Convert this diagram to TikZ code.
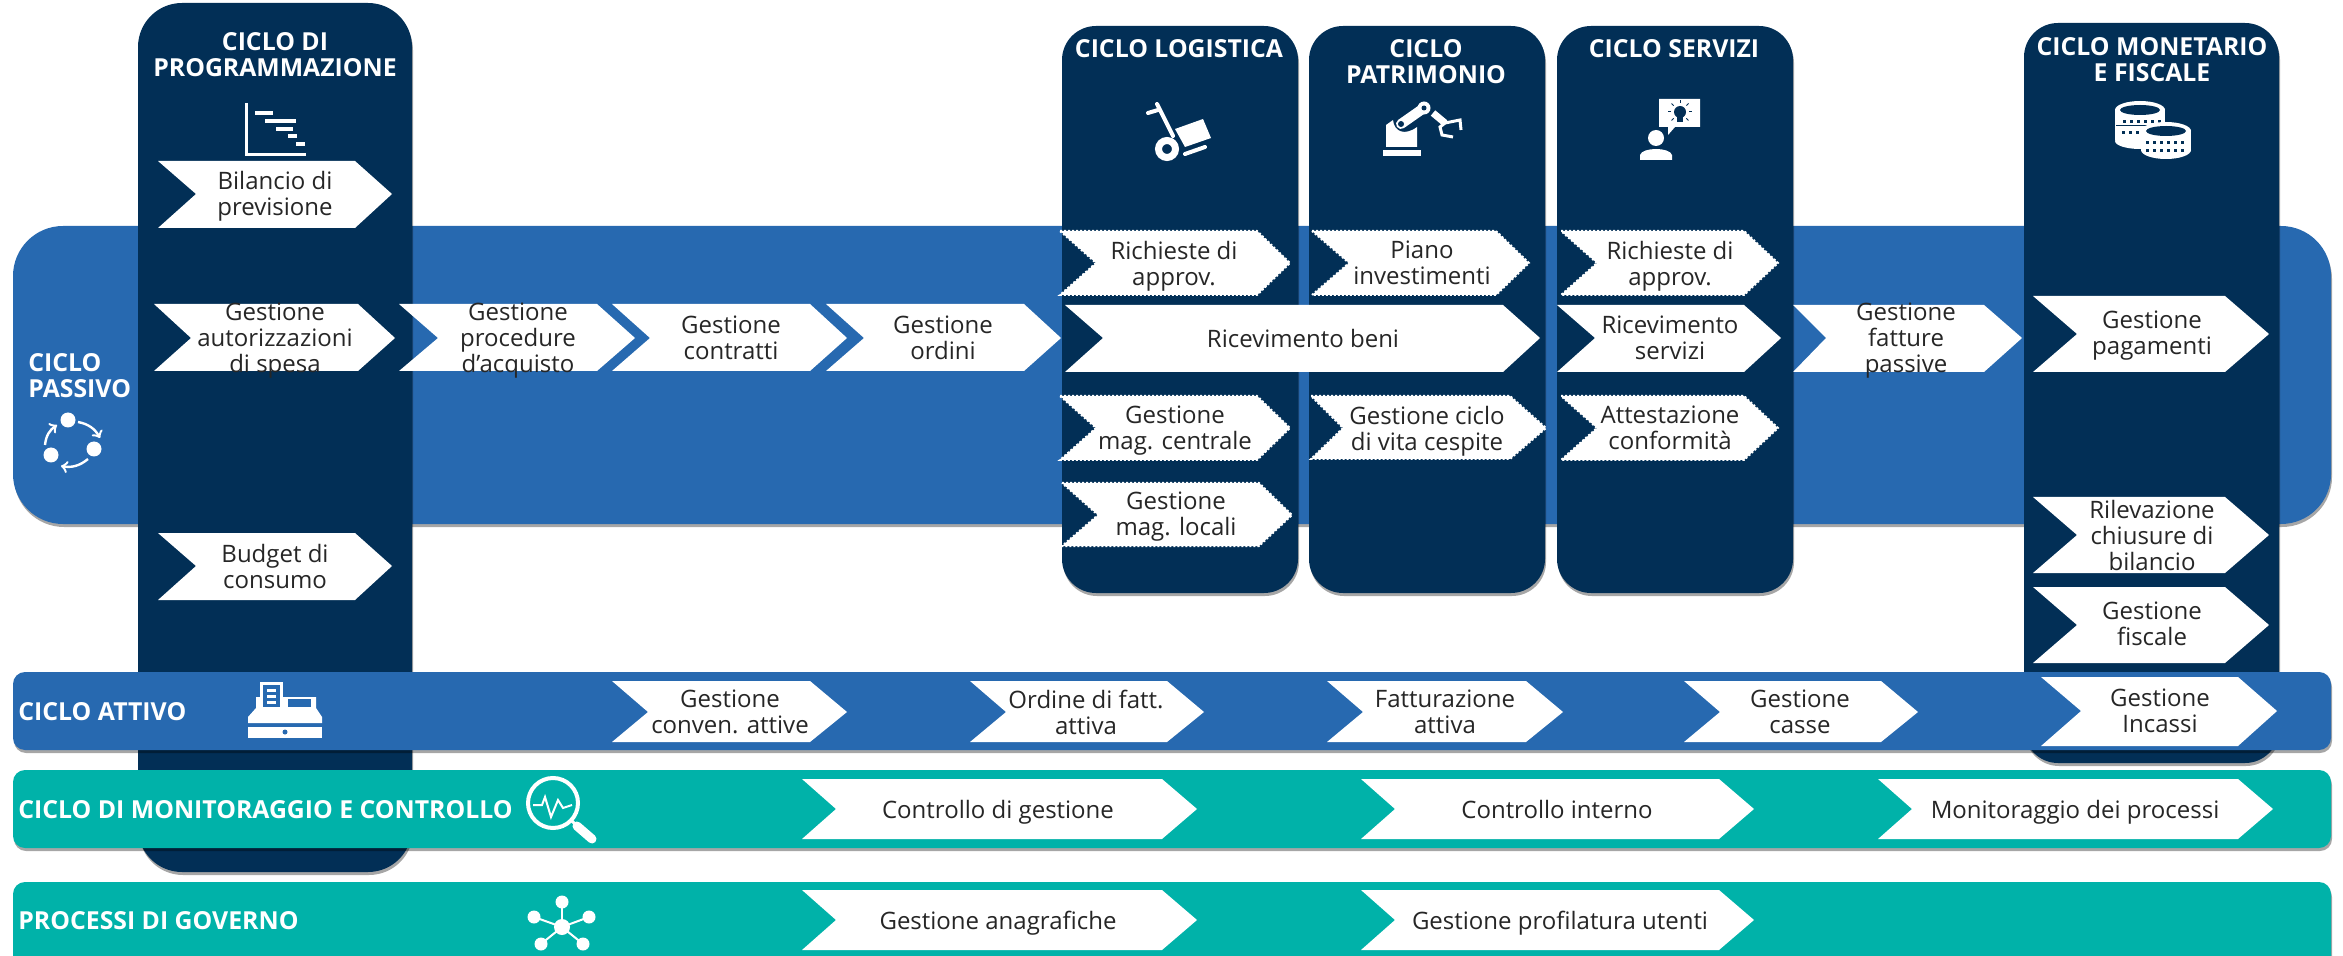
\documentclass[tikz,border=0pt]{standalone}
\usepackage{fontspec}
\setmainfont{Open Sans}
\usepackage{tikz}
\usetikzlibrary{shadows}
\definecolor{navy}{HTML}{022F56}
\definecolor{bandblue}{HTML}{2769B0}
\definecolor{bandteal}{HTML}{00B2A9}
\tikzstyle{soft} = [drop shadow={shadow xshift=0.5pt, shadow yshift=-1.5pt, fill=black, opacity=0.35}]
\tikzstyle{passivo} = [fill=bandblue, rounded corners=25pt, soft]
\tikzstyle{attivo} = [fill=bandblue, rounded corners=6pt, soft]
\tikzstyle{governo} = [fill=bandteal, rounded corners=6pt, soft]
\tikzstyle{ciclo} = [fill=navy, rounded corners=17pt, soft]
\tikzstyle{chev} = [fill=white]
\tikzstyle{chevdot} = [fill=white, draw=white, line width=1pt, dash pattern=on 1pt off 1pt]
\tikzstyle{chevtext} = [anchor=center, yshift=-1.5pt, color=black!85, align=center, inner sep=0pt, font=\fontsize{12}{13}\selectfont, execute at begin node=\strut, execute at end node=\strut]
\tikzstyle{headtext} = [anchor=center, yshift=-1.5pt, color=white, align=center, inner sep=0pt, font=\fontsize{12.4}{13}\selectfont\bfseries, execute at begin node=\strut, execute at end node=\strut]
\tikzstyle{bandtext} = [anchor=west, yshift=-1.5pt, color=white, align=left, inner sep=0pt, font=\fontsize{12.4}{13}\selectfont\bfseries, execute at begin node=\strut, execute at end node=\strut]
\tikzstyle{icon} = [fill=white]
\tikzstyle{iconline} = [draw=white, line width=1.5pt]

\begin{document}
\begin{tikzpicture}[x=0.5pt, y=-0.5pt]
  \clip (0,0) rectangle (2343,956);

  % ciclo passivo and the columns over it
  \fill[passivo] (13,226) rectangle (2331,524);
  \fill[ciclo, rounded corners=22pt] (138,3) rectangle (412,872);
  \fill[ciclo] (1062,26) rectangle (1298,593);
  \fill[ciclo] (1309,26) rectangle (1545,593);
  \fill[ciclo] (1557,26) rectangle (1793,593);
  \fill[ciclo] (2024,23) rectangle (2279,763);

  % headers
  \node[headtext] (hprog) at (275,55) {CICLO DI\\PROGRAMMAZIONE};
  \node[headtext] (hlog) at (1179,49) {CICLO LOGISTICA};
  \node[headtext] (hpat) at (1426,62) {CICLO\\PATRIMONIO};
  \node[headtext] (hser) at (1674,49) {CICLO SERVIZI};
  \node[headtext] (hmon) at (2152,60) {CICLO MONETARIO\\E FISCALE};
  \node[bandtext] (lpassivo) at (28,376) {CICLO\\PASSIVO};

  % programmazione
  \fill[chev] (158,161) -- (355,161) -- (392,194) -- (355,228) -- (158,228) -- (196,194) -- cycle;
  \node[chevtext] (bilancio) at (275,194) {Bilancio di\\previsione};
  \fill[chev] (154,304) -- (358,304) -- (395,338) -- (358,371) -- (154,371) -- (191,338) -- cycle;
  \node[chevtext] (autorizz) at (275,339) {Gestione\\autorizzazioni\\di spesa};
  \fill[chev] (158,533) -- (355,533) -- (392,566) -- (355,600) -- (158,600) -- (196,566) -- cycle;
  \node[chevtext] (budget) at (275,567) {Budget di\\consumo};

  % passivo row
  \fill[chev] (399,304) -- (597,304) -- (635,338) -- (597,371) -- (399,371) -- (438,338) -- cycle;
  \node[chevtext] (procedure) at (518,339) {Gestione\\procedure\\d’acquisto};
  \fill[chev] (612,304) -- (810,304) -- (847,338) -- (810,371) -- (612,371) -- (650,338) -- cycle;
  \node[chevtext] (contratti) at (731,339) {Gestione\\contratti};
  \fill[chev] (826,304) -- (1024,304) -- (1061,338) -- (1024,371) -- (826,371) -- (864,338) -- cycle;
  \node[chevtext] (ordini) at (943,339) {Gestione\\ordini};
  \fill[chev] (1793,305) -- (1984,305) -- (2022,338) -- (1984,372) -- (1793,372) -- (1826,338) -- cycle;
  \node[chevtext] (fatture) at (1906,339) {Gestione\\fatture\\passive};

  % logistica
  \filldraw[chevdot] (1060,231) -- (1257,231) -- (1290,263) -- (1257,295) -- (1060,295) -- (1096,263) -- cycle;
  \node[chevtext] (richl) at (1174,264) {Richieste di\\approv.};
  \filldraw[chevdot] (1060,396) -- (1257,396) -- (1290,428) -- (1257,460) -- (1060,460) -- (1096,428) -- cycle;
  \node[chevtext] (magc) at (1175,429) {Gestione\\mag. centrale};
  \filldraw[chevdot] (1062,483) -- (1259,483) -- (1292,515) -- (1259,546) -- (1062,546) -- (1098,515) -- cycle;
  \node[chevtext] (magl) at (1176,515) {Gestione\\mag. locali};

  % patrimonio
  \filldraw[chevdot] (1312,231) -- (1496,231) -- (1529,263) -- (1496,295) -- (1312,295) -- (1349,263) -- cycle;
  \node[chevtext] (piano) at (1422,264) {Piano\\investimenti};
  \filldraw[chevdot] (1311,396) -- (1510,396) -- (1546,428) -- (1510,459) -- (1311,459) -- (1343,428) -- cycle;
  \node[chevtext] (cespite) at (1427,429) {Gestione ciclo\\di vita cespite};

  % servizi
  \filldraw[chevdot] (1561,231) -- (1744,231) -- (1778,263) -- (1744,295) -- (1561,295) -- (1597,263) -- cycle;
  \node[chevtext] (richs) at (1670,264) {Richieste di\\approv.};
  \fill[chev] (1557,305) -- (1744,305) -- (1781,338) -- (1744,372) -- (1557,372) -- (1595,338) -- cycle;
  \node[chevtext] (ricser) at (1670,339) {Ricevimento\\servizi};
  \filldraw[chevdot] (1561,396) -- (1744,396) -- (1778,428) -- (1744,460) -- (1561,460) -- (1597,428) -- cycle;
  \node[chevtext] (attest) at (1670,429) {Attestazione\\conformità};

  % goes across two columns
  \fill[chev] (1065,305) -- (1503,305) -- (1540,338) -- (1503,372) -- (1065,372) -- (1103,338) -- cycle;
  \node[chevtext] (ricben) at (1303,339) {Ricevimento beni};

  % monetario e fiscale
  \fill[chev] (2033,296) -- (2225,296) -- (2269,334) -- (2225,372) -- (2033,372) -- (2077,334) -- cycle;
  \node[chevtext] (pagam) at (2152,334) {Gestione\\pagamenti};
  \fill[chev] (2033,497) -- (2225,497) -- (2269,535) -- (2225,573) -- (2033,573) -- (2077,535) -- cycle;
  \node[chevtext] (chius) at (2152,536) {Rilevazione\\chiusure di\\bilancio};
  \fill[chev] (2033,587) -- (2225,587) -- (2269,625) -- (2225,663) -- (2033,663) -- (2077,625) -- cycle;
  \node[chevtext] (fiscale) at (2152,625) {Gestione\\fiscale};

  % the three bands at the bottom
  \fill[attivo] (13,672) rectangle (2331,750);
  \fill[governo] (13,770) rectangle (2331,848);
  \fill[governo] (13,882) rectangle (2331,985);
  \node[bandtext] (lattivo) at (18,712) {CICLO ATTIVO};
  \node[bandtext] (lmonit) at (18,810) {CICLO DI MONITORAGGIO E CONTROLLO};
  \node[bandtext] (lgov) at (18,921) {PROCESSI DI GOVERNO};

  % attivo row
  \fill[chev] (612,681) -- (810,681) -- (847,712) -- (810,742) -- (612,742) -- (648,712) -- cycle;
  \node[chevtext] (conven) at (730,713) {Gestione\\conven. attive};
  \fill[chev] (970,681) -- (1167,681) -- (1204,712) -- (1167,742) -- (970,742) -- (1006,712) -- cycle;
  \node[chevtext] (ordfatt) at (1086,713) {Ordine di fatt.\\attiva};
  \fill[chev] (1327,681) -- (1526,681) -- (1563,712) -- (1526,742) -- (1327,742) -- (1363,712) -- cycle;
  \node[chevtext] (fattatt) at (1445,713) {Fatturazione\\attiva};
  \fill[chev] (1684,681) -- (1881,681) -- (1918,712) -- (1881,742) -- (1684,742) -- (1720,712) -- cycle;
  \node[chevtext] (casse) at (1800,713) {Gestione\\casse};
  \fill[chev] (2041,677) -- (2238,677) -- (2277,711) -- (2238,746) -- (2041,746) -- (2081,711) -- cycle;
  \node[chevtext] (incassi) at (2160,712) {Gestione\\Incassi};

  % monitoraggio and governo rows
  \fill[chev] (802,779) -- (1162,779) -- (1197,809) -- (1162,839) -- (802,839) -- (836,809) -- cycle;
  \node[chevtext] (contgest) at (998,810) {Controllo di gestione};
  \fill[chev] (1361,779) -- (1719,779) -- (1754,809) -- (1719,839) -- (1361,839) -- (1395,809) -- cycle;
  \node[chevtext] (contint) at (1557,810) {Controllo interno};
  \fill[chev] (1878,779) -- (2238,779) -- (2273,809) -- (2238,839) -- (1878,839) -- (1912,809) -- cycle;
  \node[chevtext] (monproc) at (2075,810) {Monitoraggio dei processi};
  \fill[chev] (802,890) -- (1162,890) -- (1197,920) -- (1162,950) -- (802,950) -- (836,920) -- cycle;
  \node[chevtext] (anag) at (998,921) {Gestione anagrafiche};
  \fill[chev] (1361,890) -- (1719,890) -- (1754,920) -- (1719,950) -- (1361,950) -- (1395,920) -- cycle;
  \node[chevtext] (profil) at (1560,921) {Gestione profilatura utenti};

  % icon gantt
  \draw[iconline] (246,103) -- (246,155) -- (306,155);
  \fill[icon] (255,111) rectangle (273,115);
  \fill[icon] (265,119) rectangle (296,123);
  \fill[icon] (276,127) rectangle (293,131);
  \fill[icon] (288,134) rectangle (297,138);
  \fill[icon] (296,142) rectangle (305,146);

  % icon cycle
  \fill[icon] (68,420) circle (7.5);
  \fill[icon] (94,449) circle (7.5);
  \fill[icon] (51,455) circle (7.5);
  \draw[iconline, ->, line width=1.2pt] (78,422) to[bend left=25] (100,438);
  \draw[iconline, ->, line width=1.2pt] (88,459) to[bend left=25] (61,466);
  \draw[iconline, ->, line width=1.2pt] (45,445) to[bend left=25] (57,425);

  % icon trolley
  \draw[iconline, line width=2pt, line cap=round] (1157,104) -- (1173,136);
  \draw[iconline, line width=2pt, line cap=round] (1148,113) -- (1158,110);
  \draw[iconline, line width=3.5pt] (1167,149) circle (8.5);
  \fill[icon] (1175,129) -- (1203,119) -- (1211,138) -- (1185,147) -- cycle;
  \draw[iconline, line width=2pt, line cap=round] (1185,154) -- (1205,147);

  % icon robot
  \fill[icon] (1383,150) rectangle (1421,156);
  \fill[icon] (1386,147) -- (1386,125) -- (1393,120) .. controls (1394,132) and (1405,136) .. (1417,127) -- (1417,147) -- cycle;
  \draw[iconline, line width=5pt, line cap=round] (1401,124) -- (1421,110);
  \fill[navy] (1401,124) circle (3);
  \fill[icon] (1424,108) circle (6.5);
  \fill[navy] (1424,108) circle (2.5);
  \draw[iconline, line width=3.5pt] (1433,113) -- (1445,123);
  \draw[iconline] (1445,123) -- (1460,120) -- (1461,130);
  \draw[iconline] (1445,123) -- (1440,127) -- (1442,135) -- (1453,137);

  % icon person with bubble
  \fill[icon] (1659,99) -- (1700,99) -- (1700,127) -- (1675,127) -- (1668,135) -- (1668,127) -- (1659,127) -- cycle;
  \fill[navy] (1680,112) circle (6);
  \fill[navy] (1677,117) rectangle (1683,122);
  \foreach \a in {0,45,135,180,225,315,270}
    \draw[navy, line width=0.5pt] (1680,112) ++(\a:9) -- ++(\a:3);
  \fill[icon] (1656,138) circle (8);
  \fill[icon] (1640,160) -- (1640,155) .. controls (1642,147) and (1670,147) .. (1672,155) -- (1672,160) -- cycle;

  % icon coins
  \fill[icon] (2115,110) rectangle (2165,140);
  \fill[icon] (2140,110) ellipse [x radius=25, y radius=9];
  \fill[icon] (2140,141) ellipse [x radius=25, y radius=8];
  \fill[navy] (2140,110) ellipse [x radius=20, y radius=5];
  \fill[navy] (2116,125) rectangle (2164,126);
  \foreach \x in {2123,2130,2137,2144,2151,2158}
    \fill[navy] (\x,120) rectangle +(3,3);
  \foreach \x in {2122,2129,2136}
    \fill[navy] (\x,131) rectangle +(3,3);
  \fill[icon] (2141,131) rectangle (2191,150);
  \fill[icon] (2166,131) ellipse [x radius=25, y radius=9];
  \fill[icon] (2166,150) ellipse [x radius=25, y radius=9];
  \fill[navy] (2166,131) ellipse [x radius=20, y radius=5];
  \foreach \x in {2146,2153,2160,2167,2174,2181}
    \fill[navy] (\x,141) rectangle +(3,3);
  \foreach \x in {2146,2153,2160,2167,2174,2181}
    \fill[navy] (\x,149) rectangle +(3,3);

  % icon cash register
  \fill[icon] (248,727) rectangle (322,738);
  \fill[bandblue] (285,732) circle (2.5);
  \fill[icon] (248,723) -- (322,723) -- (322,717) -- (316,708) -- (316,697) -- (256,697) -- (256,708) -- (248,717) -- cycle;
  \fill[icon] (260,682) rectangle (283,708);
  \fill[bandblue] (263,685) rectangle (280,707);
  \fill[icon] (267,689) rectangle (276,692);
  \fill[icon] (267,695) rectangle (276,698);
  \fill[icon] (267,701) rectangle (276,704);
  \fill[bandblue] (288,699) rectangle (311,707);

  % icon magnifier
  \draw[iconline, line width=2pt] (553,803) circle (25);
  \draw[iconline, line width=1pt] (533,805) -- (542,805) -- (545,797) -- (551,817) -- (558,800) -- (563,808) -- (572,805);
  \draw[iconline, line width=1.5pt] (572,821) -- (577,826);
  \draw[iconline, line width=4.5pt, line cap=round] (577,826) -- (592,839);

  % icon hub
  \draw[iconline, line width=1pt] (562,902) -- (562,927);
  \draw[iconline, line width=1pt] (534,917) -- (562,927);
  \draw[iconline, line width=1pt] (589,917) -- (562,927);
  \draw[iconline, line width=1pt] (541,944) -- (562,927);
  \draw[iconline, line width=1pt] (583,944) -- (562,927);
  \fill[icon] (562,927) circle (8);
  \fill[icon] (562,902) circle (6.5);
  \fill[icon] (534,917) circle (6.5);
  \fill[icon] (589,917) circle (6.5);
  \fill[icon] (541,944) circle (6.5);
  \fill[icon] (583,944) circle (6.5);
\end{tikzpicture}
\end{document}
